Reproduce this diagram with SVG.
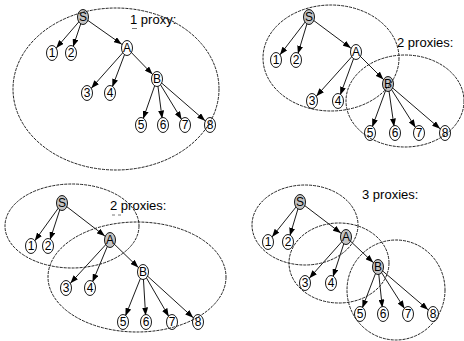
<svg xmlns="http://www.w3.org/2000/svg" width="464" height="341" viewBox="0 0 464 341">
  <defs>
    <marker id="arrow" markerUnits="userSpaceOnUse" markerWidth="8" markerHeight="6" viewBox="0 0 8 6" refX="14.5" refY="3" orient="auto">
      <path d="M0,0 L8,3 L0,6 z" fill="#000"/>
    </marker>
    <style>
      .node ellipse { fill: #fff; stroke: #000; stroke-width: 0.9; }
      .node.proxy ellipse { fill: #c4c4c4; }
      .node text, .caption { font-family: "Liberation Sans", Arial, sans-serif; fill: #000; }
      .node text { font-size: 12px; text-anchor: middle; }
      .caption { font-size: 13px; }
      .edges line { stroke: #000; stroke-width: 0.9; marker-end: url(#arrow); }
      .zone { fill: none; stroke: #222; stroke-width: 1; stroke-dasharray: 3 1; }
      .mark { stroke: #555; stroke-width: 0.8; }
    </style>
  </defs>
  <rect width="464" height="341" fill="#fff"/>

  <!-- ===== Panel 1: one proxy ===== -->
  <g id="panel1">
    <g class="edges">
      <line x1="83" y1="17" x2="52" y2="53"/>
      <line x1="83" y1="17" x2="71" y2="53"/>
      <line x1="83" y1="17" x2="127" y2="48"/>
      <line x1="127" y1="48" x2="87" y2="93"/>
      <line x1="127" y1="48" x2="110" y2="93"/>
      <line x1="127" y1="48" x2="157" y2="79"/>
      <line x1="157" y1="79" x2="141" y2="125"/>
      <line x1="157" y1="79" x2="163" y2="125"/>
      <line x1="157" y1="79" x2="185" y2="125"/>
      <line x1="157" y1="79" x2="210" y2="125"/>
    </g>
    <g id="p1-S" class="node proxy"><ellipse cx="83" cy="17" rx="5.5" ry="7.5"/><text x="83" y="21.3">S</text></g>
    <g id="p1-n1" class="node"><ellipse cx="52" cy="53" rx="5.5" ry="7.5"/><text x="52" y="57.3">1</text></g>
    <g id="p1-n2" class="node"><ellipse cx="71" cy="53" rx="5.5" ry="7.5"/><text x="71" y="57.3">2</text></g>
    <g id="p1-A" class="node"><ellipse cx="127" cy="48" rx="5.5" ry="7.5"/><text x="127" y="52.3">A</text></g>
    <g id="p1-n3" class="node"><ellipse cx="87" cy="93" rx="5.5" ry="7.5"/><text x="87" y="97.3">3</text></g>
    <g id="p1-n4" class="node"><ellipse cx="110" cy="93" rx="5.5" ry="7.5"/><text x="110" y="97.3">4</text></g>
    <g id="p1-B" class="node"><ellipse cx="157" cy="79" rx="5.5" ry="7.5"/><text x="157" y="83.3">B</text></g>
    <g id="p1-n5" class="node"><ellipse cx="141" cy="125" rx="5.5" ry="7.5"/><text x="141" y="129.3">5</text></g>
    <g id="p1-n6" class="node"><ellipse cx="163" cy="125" rx="5.5" ry="7.5"/><text x="163" y="129.3">6</text></g>
    <g id="p1-n7" class="node"><ellipse cx="185" cy="125" rx="5.5" ry="7.5"/><text x="185" y="129.3">7</text></g>
    <g id="p1-n8" class="node"><ellipse cx="210" cy="125" rx="5.5" ry="7.5"/><text x="210" y="129.3">8</text></g>
    <text class="caption" x="130" y="24">1 proxy:</text>
    <line class="mark" x1="132" y1="28.5" x2="137" y2="28.5"/>
    <ellipse class="zone" cx="116" cy="89" rx="103" ry="81"/>
  </g>

  <!-- ===== Panel 2: two proxies (S, B) ===== -->
  <g id="panel2">
    <g class="edges">
      <line x1="309" y1="17" x2="276" y2="60"/>
      <line x1="309" y1="17" x2="296" y2="60"/>
      <line x1="309" y1="17" x2="356" y2="52"/>
      <line x1="356" y1="52" x2="312" y2="101"/>
      <line x1="356" y1="52" x2="338" y2="101"/>
      <line x1="356" y1="52" x2="388" y2="84"/>
      <line x1="388" y1="84" x2="370" y2="133"/>
      <line x1="388" y1="84" x2="395" y2="133"/>
      <line x1="388" y1="84" x2="419" y2="133"/>
      <line x1="388" y1="84" x2="445" y2="133"/>
    </g>
    <g id="p2-S" class="node proxy"><ellipse cx="309" cy="17" rx="5.5" ry="7.5"/><text x="309" y="21.3">S</text></g>
    <g id="p2-n1" class="node"><ellipse cx="276" cy="60" rx="5.5" ry="7.5"/><text x="276" y="64.3">1</text></g>
    <g id="p2-n2" class="node"><ellipse cx="296" cy="60" rx="5.5" ry="7.5"/><text x="296" y="64.3">2</text></g>
    <g id="p2-A" class="node"><ellipse cx="356" cy="52" rx="5.5" ry="7.5"/><text x="356" y="56.3">A</text></g>
    <g id="p2-n3" class="node"><ellipse cx="312" cy="101" rx="5.5" ry="7.5"/><text x="312" y="105.3">3</text></g>
    <g id="p2-n4" class="node"><ellipse cx="338" cy="101" rx="5.5" ry="7.5"/><text x="338" y="105.3">4</text></g>
    <g id="p2-B" class="node proxy"><ellipse cx="388" cy="84" rx="5.5" ry="7.5"/><text x="388" y="88.3">B</text></g>
    <g id="p2-n5" class="node"><ellipse cx="370" cy="133" rx="5.5" ry="7.5"/><text x="370" y="137.3">5</text></g>
    <g id="p2-n6" class="node"><ellipse cx="395" cy="133" rx="5.5" ry="7.5"/><text x="395" y="137.3">6</text></g>
    <g id="p2-n7" class="node"><ellipse cx="419" cy="133" rx="5.5" ry="7.5"/><text x="419" y="137.3">7</text></g>
    <g id="p2-n8" class="node"><ellipse cx="445" cy="133" rx="5.5" ry="7.5"/><text x="445" y="137.3">8</text></g>
    <text class="caption" x="397" y="47">2 proxies:</text>
    <ellipse class="zone" cx="331" cy="58" rx="68" ry="53"/>
    <ellipse class="zone" cx="405" cy="101" rx="59" ry="46"/>
  </g>

  <!-- ===== Panel 3: two proxies (S, A) ===== -->
  <g id="panel3">
    <g class="edges">
      <line x1="62" y1="203" x2="31" y2="246"/>
      <line x1="62" y1="203" x2="48" y2="246"/>
      <line x1="62" y1="203" x2="110" y2="240"/>
      <line x1="110" y1="240" x2="66" y2="288"/>
      <line x1="110" y1="240" x2="90" y2="288"/>
      <line x1="110" y1="240" x2="143" y2="272"/>
      <line x1="143" y1="272" x2="123" y2="322"/>
      <line x1="143" y1="272" x2="146" y2="322"/>
      <line x1="143" y1="272" x2="172" y2="322"/>
      <line x1="143" y1="272" x2="198" y2="322"/>
    </g>
    <g id="p3-S" class="node proxy"><ellipse cx="62" cy="203" rx="5.5" ry="7.5"/><text x="62" y="207.3">S</text></g>
    <g id="p3-n1" class="node"><ellipse cx="31" cy="246" rx="5.5" ry="7.5"/><text x="31" y="250.3">1</text></g>
    <g id="p3-n2" class="node"><ellipse cx="48" cy="246" rx="5.5" ry="7.5"/><text x="48" y="250.3">2</text></g>
    <g id="p3-A" class="node proxy"><ellipse cx="110" cy="240" rx="5.5" ry="7.5"/><text x="110" y="244.3">A</text></g>
    <g id="p3-n3" class="node"><ellipse cx="66" cy="288" rx="5.5" ry="7.5"/><text x="66" y="292.3">3</text></g>
    <g id="p3-n4" class="node"><ellipse cx="90" cy="288" rx="5.5" ry="7.5"/><text x="90" y="292.3">4</text></g>
    <g id="p3-B" class="node"><ellipse cx="143" cy="272" rx="5.5" ry="7.5"/><text x="143" y="276.3">B</text></g>
    <g id="p3-n5" class="node"><ellipse cx="123" cy="322" rx="5.5" ry="7.5"/><text x="123" y="326.3">5</text></g>
    <g id="p3-n6" class="node"><ellipse cx="146" cy="322" rx="5.5" ry="7.5"/><text x="146" y="326.3">6</text></g>
    <g id="p3-n7" class="node"><ellipse cx="172" cy="322" rx="5.5" ry="7.5"/><text x="172" y="326.3">7</text></g>
    <g id="p3-n8" class="node"><ellipse cx="198" cy="322" rx="5.5" ry="7.5"/><text x="198" y="326.3">8</text></g>
    <text class="caption" x="110" y="210">2 proxies:</text>
    <line class="mark" x1="112" y1="215" x2="115" y2="215"/>
    <line class="mark" x1="118" y1="215" x2="121" y2="215"/>
    <ellipse class="zone" cx="72" cy="226" rx="67" ry="42"/>
    <ellipse class="zone" cx="137" cy="277" rx="89" ry="55"/>
  </g>

  <!-- ===== Panel 4: three proxies (S, A, B) ===== -->
  <g id="panel4">
    <g class="edges">
      <line x1="300" y1="202" x2="268" y2="242"/>
      <line x1="300" y1="202" x2="288" y2="242"/>
      <line x1="300" y1="202" x2="346" y2="237"/>
      <line x1="346" y1="237" x2="305" y2="283"/>
      <line x1="346" y1="237" x2="331" y2="283"/>
      <line x1="346" y1="237" x2="378" y2="267"/>
      <line x1="378" y1="267" x2="360" y2="314"/>
      <line x1="378" y1="267" x2="383" y2="314"/>
      <line x1="378" y1="267" x2="408" y2="314"/>
      <line x1="378" y1="267" x2="433" y2="314"/>
    </g>
    <g id="p4-S" class="node proxy"><ellipse cx="300" cy="202" rx="5.5" ry="7.5"/><text x="300" y="206.3">S</text></g>
    <g id="p4-n1" class="node"><ellipse cx="268" cy="242" rx="5.5" ry="7.5"/><text x="268" y="246.3">1</text></g>
    <g id="p4-n2" class="node"><ellipse cx="288" cy="242" rx="5.5" ry="7.5"/><text x="288" y="246.3">2</text></g>
    <g id="p4-A" class="node proxy"><ellipse cx="346" cy="237" rx="5.5" ry="7.5"/><text x="346" y="241.3">A</text></g>
    <g id="p4-n3" class="node"><ellipse cx="305" cy="283" rx="5.5" ry="7.5"/><text x="305" y="287.3">3</text></g>
    <g id="p4-n4" class="node"><ellipse cx="331" cy="283" rx="5.5" ry="7.5"/><text x="331" y="287.3">4</text></g>
    <g id="p4-B" class="node proxy"><ellipse cx="378" cy="267" rx="5.5" ry="7.5"/><text x="378" y="271.3">B</text></g>
    <g id="p4-n5" class="node"><ellipse cx="360" cy="314" rx="5.5" ry="7.5"/><text x="360" y="318.3">5</text></g>
    <g id="p4-n6" class="node"><ellipse cx="383" cy="314" rx="5.5" ry="7.5"/><text x="383" y="318.3">6</text></g>
    <g id="p4-n7" class="node"><ellipse cx="408" cy="314" rx="5.5" ry="7.5"/><text x="408" y="318.3">7</text></g>
    <g id="p4-n8" class="node"><ellipse cx="433" cy="314" rx="5.5" ry="7.5"/><text x="433" y="318.3">8</text></g>
    <text class="caption" x="362" y="199">3 proxies:</text>
    <ellipse class="zone" cx="305" cy="225" rx="53" ry="40"/>
    <ellipse class="zone" cx="339" cy="263" rx="50" ry="40"/>
    <ellipse class="zone" cx="396" cy="290" rx="49" ry="50"/>
  </g>
</svg>
